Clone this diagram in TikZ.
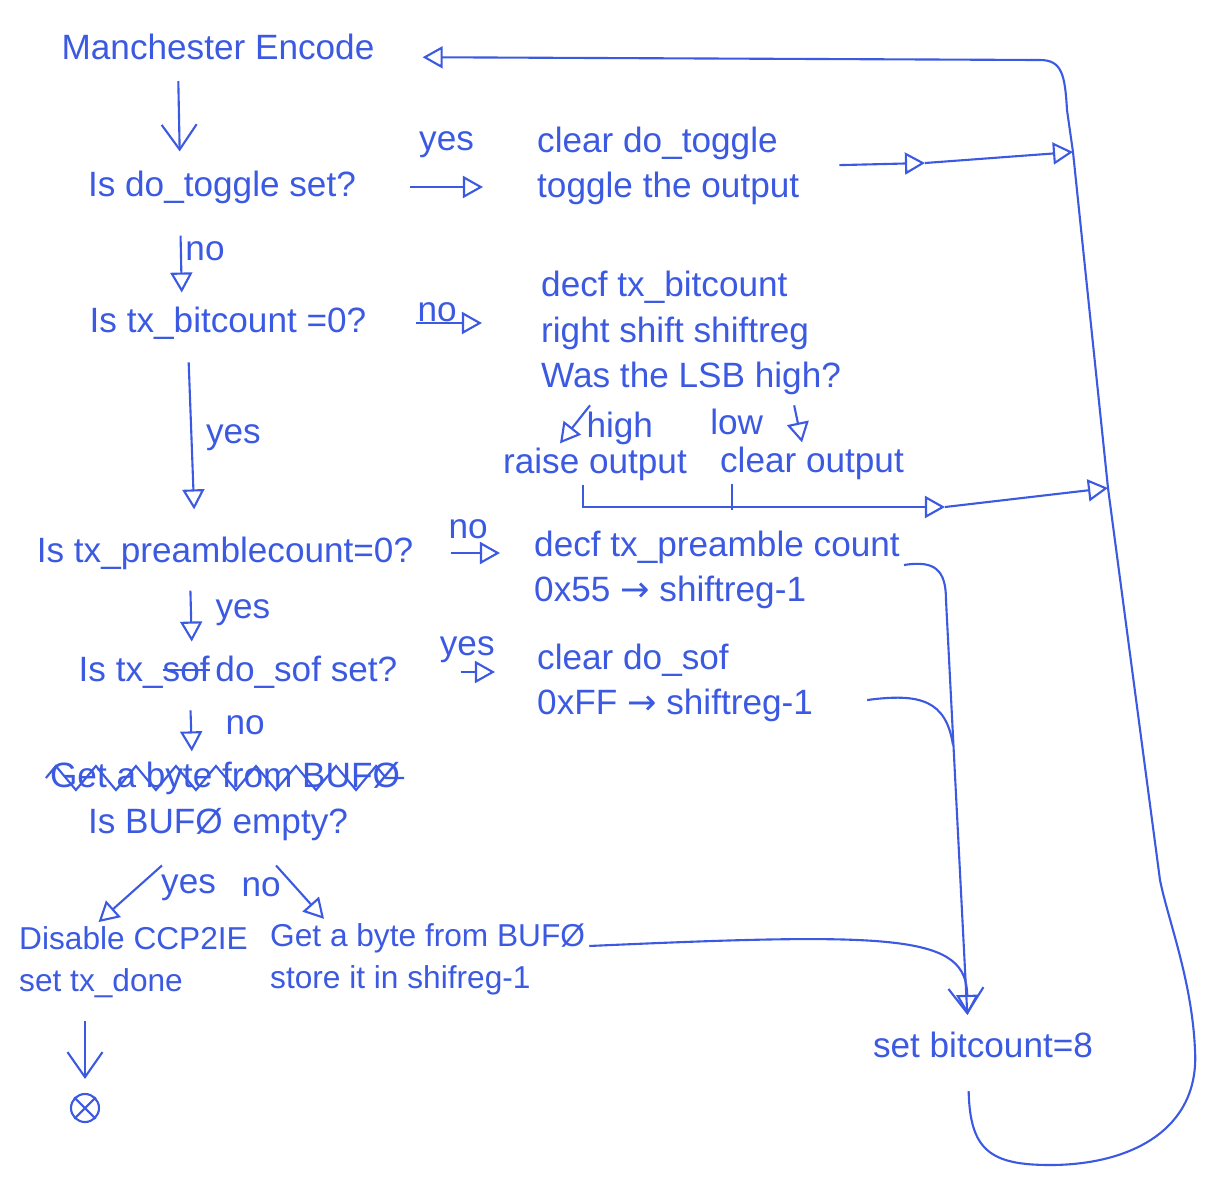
\documentclass[tikz,border=0pt]{standalone}
\usepackage{fontspec}
\setmainfont{Liberation Sans}
\newfontfamily\arrowfont{DejaVu Sans}
\usepackage{tikz}
\usetikzlibrary{arrows.meta, positioning, decorations.pathmorphing}
\usepackage{xcolor}
\definecolor{ink}{RGB}{60,90,225}
\newcommand{\tarrow}{{\arrowfont →}}
\newcommand{\struck}[1]{\setbox0\hbox{#1}\rlap{\rule[0.55ex]{\wd0}{0.6pt}}\box0}

\begin{document}
\begin{tikzpicture}[
    x=0.01cm, y=-0.01cm,
    txt/.style={
        font=\fontsize{10}{13}\selectfont,
        text=ink, inner sep=1pt,
        align=left
    },
    txtsm/.style={txt, font=\fontsize{9}{12}\selectfont},
    lbl/.style={font=\fontsize{10}{12}\selectfont, text=ink, inner sep=1pt},
    flow/.style={-{Triangle[open, length=2mm, width=2.2mm]}, semithick, ink},
    vflow/.style={-{Straight Barb[length=2.5mm, width=3.5mm]}, semithick, ink},
    wire/.style={semithick, ink}
]
\useasboundingbox (0,0) rectangle (1211,1202);

% === LEFT COLUMN ===

\node[txt] (enc) at (218,47) {Manchester Encode};
\node[txt] (tog) at (222,187) {Is do\_toggle set?};
\node[txt] (bit) at (228,323) {Is tx\_bitcount =0?};
\node[txt] (pre) at (225,553) {Is tx\_preamblecount=0?};
\node[txt] (sof) at (238,672) {Is tx\_\struck{sof}\,do\_sof set?};
\node[txt] (old) at (225,778) {Get a byte from BUFØ};
\node[txt] (emp) at (218,825) {Is BUFØ empty?};
\node[txtsm, anchor=west] (dis) at (15,962) {Disable CCP2IE\\set tx\_done};
\node[draw, circle, ink, semithick, minimum size=2.8mm, inner sep=0pt] (stop) at (85,1108) {};

% === RIGHT COLUMN ===

\node[txt, anchor=west] (clr) at (533,166) {clear do\_toggle\\toggle the output};
\node[txt, anchor=west] (shf) at (537,333) {decf tx\_bitcount\\right shift shiftreg\\Was the LSB high?};
\node[txt] (rai) at (595,464) {raise output};
\node[txt] (low) at (812,463) {clear output};
\node[txt, anchor=west] (dpre) at (530,570) {decf tx\_preamble count\\0x55 \tarrow{} shiftreg-1};
\node[txt, anchor=west] (csof) at (533,683) {clear do\_sof\\0xFF \tarrow{} shiftreg-1};
\node[txtsm, anchor=west] (get) at (266,959) {Get a byte from BUFØ\\store it in shifreg-1};
\node[txt] (cnt) at (983,1045) {set bitcount=8};

% joints on the return line
\coordinate (m1) at (925,163);
\coordinate (j1) at (1073,152);
\coordinate (m2) at (945,507);
\coordinate (j2) at (1108,488);
\coordinate (bend) at (946,600);
\coordinate (mrg) at (953,745);

% === CONNECTIONS ===

% start -> do_toggle
\draw[vflow, shorten <=1.7mm, shorten >=1.5mm] ([xshift=-4mm]enc.south) -- ([xshift=-4.2mm]tog.north);

% do_toggle yes
\draw[flow, shorten <=5mm, shorten >=5mm] (tog.east) -- node[lbl, above=2.5mm] {yes} (tog.east -| clr.west);
\draw[flow, shorten <=3.6mm] (clr.east) -- (m1);
\draw[flow] (m1) -- (j1);

% do_toggle no
\draw[flow, shorten <=2.8mm, shorten >=1mm] ([xshift=-4.2mm]tog.south) -- node[lbl, right, pos=0.46] {no} ([xshift=-4.6mm]bit.north);

% bitcount no
\draw[flow, shorten <=4.5mm, shorten >=5.5mm] (bit.east) -- node[lbl, above=-1pt, pos=0.4] {no} (bit.east -| shf.west);

% LSB high / low
\draw[flow] ([xshift=-10.1mm, yshift=-0.6mm]shf.south) -- node[lbl, right=1mm, pos=0.6] {high} ([xshift=-3.5mm]rai.north);
\draw[flow] ([xshift=10.3mm, yshift=-0.6mm]shf.south) -- node[lbl, left=3mm, pos=0.45] {low} ([xshift=-1mm]low.north);
\draw[flow] ([xshift=-1.2mm]rai.south) |- (m2);
\draw[wire] ([xshift=-8mm]low.south) -- ++(0,26);
\draw[flow] (m2) -- (j2);

% bitcount yes
\draw[flow, shorten <=1.9mm, shorten >=2.3mm] ([xshift=-4mm]bit.south) -- node[lbl, right=1mm] {yes} ([xshift=-3mm]pre.north);

% preamble no
\draw[flow, shorten <=3.4mm, shorten >=3mm] (pre.east) -- node[lbl, above=1mm, pos=0.45] {no} (pre.east -| dpre.west);
\draw[vflow, shorten >=1.3mm] ([yshift=0.5mm]dpre.east) .. controls (935,560) and (946,570) .. (bend) -- ([xshift=-1.5mm]cnt.north);

% preamble yes
\draw[flow, shorten <=1.7mm, shorten >=1mm] ([xshift=-3.5mm]pre.south) -- node[lbl, right=2mm] {yes} ([xshift=-4.6mm]sof.north);

% do_sof yes
\draw[flow, shorten <=5.9mm, shorten >=3.8mm] (sof.east) -- node[lbl, above=0.5mm] {yes} (sof.east -| csof.west);
\draw[wire] ([xshift=5mm, yshift=-1.7mm]csof.east) .. controls (920,693) and (946,700) .. (mrg);

% do_sof no
\draw[flow, shorten <=1.8mm, shorten >=0.6mm] ([xshift=-4.8mm]sof.south) -- node[lbl, right=3mm] {no} ([xshift=-3.3mm]old.north);
\draw[wire, decorate, decoration={zigzag, segment length=4mm, amplitude=1.2mm}] (old.west) -- (old.east);

% buffer empty yes / no
\draw[flow] ([xshift=-5.6mm, yshift=-2mm]emp.south) -- node[lbl, right=2mm, pos=0.4] {yes} ([xshift=-3.5mm]dis.north);
\draw[flow] ([xshift=5.8mm, yshift=-2mm]emp.south) -- node[lbl, left=1mm, pos=0.4] {no} ([xshift=5.8mm]get.north west);
\draw[vflow, shorten <=1.9mm, shorten >=1.4mm] (dis.south -| stop.north) -- (stop.north);
\draw[wire] (stop.north west) -- (stop.south east) (stop.north east) -- (stop.south west);
\draw[flow, shorten >=1.3mm] ([yshift=1.3mm]get.east) .. controls (900,932) and (966,935) .. ([xshift=-1.5mm]cnt.north);

% bitcount set -> back to start
\draw[flow, shorten <=2.9mm, shorten >=4.4mm] ([xshift=-1.5mm]cnt.south) .. controls (970,1150) and (990,1165) .. (1050,1165)
    .. controls (1130,1165) and (1200,1130) .. (1195,1050)
    .. controls (1192,980) and (1168,920) .. (1160,880) -- (j2) -- (j1) -- (1067,110)
    .. controls (1065,75) and (1062,60) .. (1040,60) -- ([yshift=-1mm]enc.east);

\end{tikzpicture}
\end{document}
